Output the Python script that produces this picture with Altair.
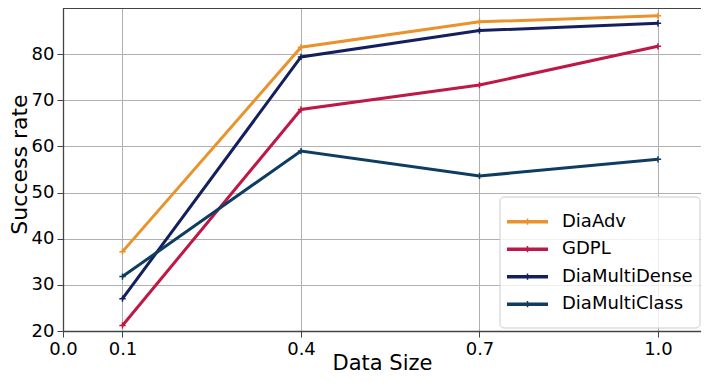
import altair as alt
import pandas as pd

sizes = [0.1, 0.4, 0.7, 1.0]
series = ["DiaAdv", "GDPL", "DiaMultiDense", "DiaMultiClass"]
dia_adv = [37.2, 81.5, 87.0, 88.3]
gdpl = [21.2, 68.0, 73.3, 81.7]
dia_multi_dense = [27.0, 79.4, 85.1, 86.7]
dia_multi_class = [31.8, 59.0, 53.6, 57.2]
colors = ["#EA922B", "#BE1846", "#14205E", "#0F3D62"]
x_ticks = [0.0, 0.1, 0.4, 0.7, 1.0]
y_ticks = [20, 30, 40, 50, 60, 70, 80]

rows = []
for name, vals in zip(series, [dia_adv, gdpl, dia_multi_dense, dia_multi_class]):
    for s, v in zip(sizes, vals):
        rows.append({"size": s, "rate": v, "series": name, "order": series.index(name)})
df = pd.DataFrame(rows)
legend_df = pd.DataFrame({"series": series, "idx": list(range(len(series)))})

FONT = "DejaVu Sans"
W, H = 638, 323
cscale = alt.Scale(domain=series, range=colors)

x = alt.X("size:Q", scale=alt.Scale(domain=[0, 1.0723], nice=False, zero=False),
          axis=alt.Axis(values=x_ticks, format=".1f", title="Data Size",
                        labelFontSize=18, titleFontSize=21, titleFontWeight="normal",
                        labelFont=FONT, titleFont=FONT, tickSize=6, labelPadding=3,
                        titleY=42, titleBaseline="bottom",
                        grid=True, gridColor="#b0b0b0", gridWidth=1,
                        domainColor="#444444", domainWidth=1.3, tickColor="#444444",
                        labelColor="black", titleColor="black", labelFlush=False))
y = alt.Y("rate:Q", scale=alt.Scale(domain=[20, 90], nice=False, zero=False),
          axis=alt.Axis(values=y_ticks, title="Success rate",
                        labelFontSize=18, titleFontSize=22, titleFontWeight="normal",
                        labelFont=FONT, titleFont=FONT, tickSize=6, labelPadding=3,
                        titleX=-44, titleY=156, titleAngle=270, titleAlign="center",
                        titleBaseline="middle",
                        grid=True, gridColor="#b0b0b0", gridWidth=1,
                        domainColor="#444444", domainWidth=1.3, tickColor="#444444",
                        labelColor="black", titleColor="black", labelFlush=False))

lines = alt.Chart(df).mark_line(strokeWidth=3).encode(
    x=x, y=y, color=alt.Color("series:N", scale=cscale, legend=None),
    order="order:Q", detail="series:N")
points = alt.Chart(df).mark_point(shape="M-1,0L1,0M0,-1L0,1", size=40, strokeWidth=1.5,
                                  filled=False, opacity=1).encode(
    x=x, y=y, color=alt.Color("series:N", scale=cscale, legend=None))
top = alt.Chart(df).mark_rule(color="#444444", strokeWidth=1.3).encode(
    x=alt.value(0), x2=alt.value(W), y=alt.value(0))

box = alt.Chart(pd.DataFrame({"a": [0]})).mark_rect(
    fill="white", fillOpacity=0.8, stroke="#cccccc", strokeWidth=1, cornerRadius=4).encode(
    x=alt.value(437), x2=alt.value(637), y=alt.value(189), y2=alt.value(320))
leg_base = alt.Chart(legend_df).transform_calculate(ly="213.7 + 27.5 * datum.idx")
leg_lines = leg_base.mark_rule(strokeWidth=3.5).encode(
    x=alt.value(444), x2=alt.value(485), y=alt.Y("ly:Q", scale=None),
    color=alt.Color("series:N", scale=cscale, legend=None))
leg_pts = leg_base.mark_point(shape="M-1,0L1,0M0,-1L0,1", size=40, strokeWidth=1.5,
                              filled=False, opacity=1).encode(
    x=alt.value(464.5), y=alt.Y("ly:Q", scale=None),
    color=alt.Color("series:N", scale=cscale, legend=None))
leg_text = leg_base.mark_text(align="left", baseline="middle", fontSize=18, font=FONT,
                              color="black").encode(
    x=alt.value(499), y=alt.Y("ly:Q", scale=None), text="series:N")

chart = alt.layer(lines, points, top, box, leg_lines, leg_pts, leg_text).properties(
    width=W, height=H,
    autosize=alt.AutoSizeParams(type="none"),
    padding={"left": 55, "top": 0, "right": 0, "bottom": 43},
).configure_view(stroke=None)

chart.save("out.html", embed_options={"renderer": "svg", "actions": False})
